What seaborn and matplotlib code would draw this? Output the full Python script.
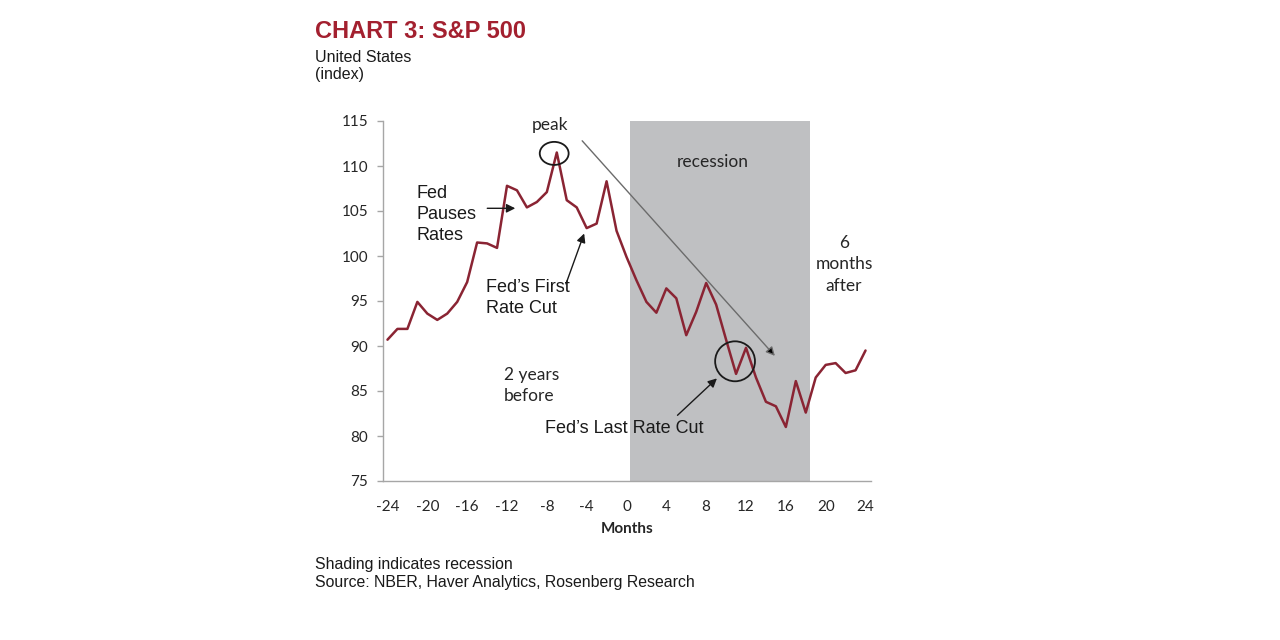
import matplotlib
matplotlib.use("Agg")
import matplotlib.pyplot as plt
from matplotlib.patches import Ellipse
import seaborn as sns
import pandas as pd

# ---- data ----
months = list(range(-24, 25))
sp500 = [90.7, 91.9, 91.9, 94.9, 93.6, 92.9, 93.6, 94.9, 97.1, 101.5,
         101.4, 100.9, 107.8, 107.3, 105.4, 106.0, 107.1, 111.5, 106.2, 105.4,
         103.1, 103.6, 108.3, 102.8, 99.9, 97.3, 94.9, 93.7, 96.4, 95.3,
         91.2, 93.8, 97.0, 94.6, 90.7, 86.9, 89.8, 86.5, 83.8, 83.3,
         81.0, 86.1, 82.6, 86.5, 87.9, 88.1, 87.0, 87.3, 89.5]
recession_start = 0.4
recession_end = 18.4
x_tick_labels = [-24, -20, -16, -12, -8, -4, 0, 4, 8, 12, 16, 20, 24]
y_ticks = [75, 80, 85, 90, 95, 100, 105, 110, 115]

df = pd.DataFrame({"Months": months, "Index": sp500})

sns.set_style("white")
ARIAL = ["Liberation Sans", "DejaVu Sans"]
CAL = ["Lato", "DejaVu Sans"]
plt.rcParams["font.family"] = CAL

fig = plt.figure(figsize=(12.8, 6.4), dpi=100)
ax = fig.add_axes([382.5 / 1280, 1 - 481 / 640, 488 / 1280, 360 / 640])

LINE = "#8A2433"
GRAY = "#A6A6A6"
TXT = "#262626"

ax.axvspan(recession_start, recession_end, color="#BFC0C2", lw=0, zorder=0)
sns.lineplot(data=df, x="Months", y="Index", ax=ax, color=LINE, linewidth=1.8, zorder=3)

ax.set_xlim(-24.5, 24.5)
ax.set_ylim(75, 115)
ax.set_xlabel("")
ax.set_ylabel("")
ax.set_xticks(x_tick_labels)
ax.set_xticklabels([str(v) for v in x_tick_labels])
ax.set_xticks([-24.5 + 2 * k for k in range(25)], minor=True)
ax.set_yticks(y_ticks)
ax.set_yticklabels([str(v) for v in y_ticks])
ax.tick_params(axis="x", which="major", length=0, pad=14, labelsize=11, labelcolor=TXT)
ax.tick_params(axis="x", which="minor", length=4, width=1, color=GRAY, direction="out")
ax.tick_params(axis="y", which="major", length=4, width=1, color=GRAY, pad=6.5,
               labelsize=11, labelcolor=TXT, direction="out", left=True)
for s in ["top", "right"]:
    ax.spines[s].set_visible(False)
for s in ["left", "bottom"]:
    ax.spines[s].set_color(GRAY)
    ax.spines[s].set_linewidth(1)
ax.grid(False)

# ---- annotations ----
ax.text(-7.66, 114.6, "peak", ha="center", va="center", fontsize=12.5, color=TXT, family=CAL)
ax.add_patch(Ellipse((-7.26, 111.4), 2.9, 2.56, fill=False, ec="#1a1a1a", lw=1.3, zorder=4))
ax.annotate("", xy=(14.9, 88.9), xytext=(-4.45, 112.8),
            arrowprops=dict(arrowstyle="-|>", ec="#6b6b6b", fc="black", lw=1.0,
                            mutation_scale=13, shrinkA=0, shrinkB=0), zorder=4)
ax.text(8.7, 110.4, "recession", ha="center", va="center", fontsize=12.5, color=TXT, family=CAL)
ax.text(21.85, 99.1, "6\nmonths\nafter", ha="center", va="center", fontsize=12.5,
        color=TXT, family=CAL, linespacing=1.42)
ax.text(-12.28, 85.6, "2 years\nbefore", ha="left", va="center", fontsize=12.5,
        color=TXT, family=CAL, linespacing=1.38)

ax.text(-21.1, 104.6, "Fed\nPauses\nRates", ha="left", va="center", fontsize=13,
        color="#1a1a1a", family=ARIAL, linespacing=1.32)
ax.annotate("", xy=(-11.17, 105.3), xytext=(-13.98, 105.3),
            arrowprops=dict(arrowstyle="-|>", color="#1a1a1a", lw=1.0,
                            mutation_scale=13, shrinkA=0, shrinkB=0))
ax.text(-14.08, 95.3, "Fed\u2019s First\nRate Cut", ha="left", va="center", fontsize=13,
        color="#1a1a1a", family=ARIAL, linespacing=1.32)
ax.annotate("", xy=(-4.25, 102.5), xytext=(-6.08, 96.9),
            arrowprops=dict(arrowstyle="-|>", color="#1a1a1a", lw=1.0,
                            mutation_scale=13, shrinkA=0, shrinkB=0))
ax.text(-8.15, 80.8, "Fed\u2019s Last Rate Cut", ha="left", va="center", fontsize=13,
        color="#1a1a1a", family=ARIAL)
ax.annotate("", xy=(9.08, 86.4), xytext=(5.12, 82.3),
            arrowprops=dict(arrowstyle="-|>", color="#1a1a1a", lw=1.0,
                            mutation_scale=13, shrinkA=0, shrinkB=0))
ax.add_patch(Ellipse((10.9, 88.3), 4.0, 4.44, fill=False, ec="#1a1a1a", lw=1.3, zorder=4))

# ---- figure texts ----
fig.text(315 / 1280, 1 - 31 / 640, "CHART 3: S&P 500", ha="left", va="center",
         fontsize=17, fontweight="bold", color="#A3202F", family=ARIAL)
fig.text(315 / 1280, 1 - 57 / 640, "United States", ha="left", va="center",
         fontsize=11.5, color="#1a1a1a", family=ARIAL)
fig.text(315 / 1280, 1 - 75 / 640, "(index)", ha="left", va="center",
         fontsize=11.5, color="#1a1a1a", family=ARIAL)
fig.text(627 / 1280, 1 - 529 / 640, "Months", ha="center", va="center",
         fontsize=11, fontweight="bold", color=TXT, family=CAL)
fig.text(315 / 1280, 1 - 565 / 640, "Shading indicates recession", ha="left", va="center",
         fontsize=11.4, color="#1a1a1a", family=ARIAL)
fig.text(315 / 1280, 1 - 582 / 640, "Source: NBER, Haver Analytics, Rosenberg Research",
         ha="left", va="center", fontsize=11.4, color="#1a1a1a", family=ARIAL)

fig.savefig("out.png", dpi=100)
